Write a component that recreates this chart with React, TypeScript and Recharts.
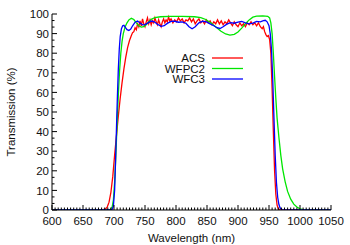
import React from "react";
import { Label, Legend, Line, LineChart, XAxis, YAxis } from "recharts";

// wavelength (nm) / transmission (%)
const acsWave = [600, 680, 686, 689, 692, 695, 698, 701, 704, 707, 710, 713, 716, 719, 722, 725, 728, 730, 732, 734, 736, 738, 740, 742, 744, 746, 748, 750, 752, 754, 756, 758, 760, 762, 764, 766, 768, 770, 772, 774, 776, 778, 780, 782, 784, 786, 788, 790, 792, 795, 798, 801, 804, 807, 810, 813, 816, 819, 822, 825, 828, 831, 834, 837, 840, 843, 846, 849, 852, 855, 858, 861, 864, 867, 870, 873, 876, 879, 882, 885, 888, 891, 894, 897, 900, 903, 906, 909, 912, 915, 918, 921, 924, 927, 930, 933, 936, 939, 941, 943, 945, 947, 949, 951, 953, 955, 957, 959, 961, 963, 965, 968, 1050];
const acsTrans = [0, 0, 0.4, 1.5, 4, 9, 17, 28, 38, 48, 57, 65, 72, 78, 83, 86.5, 89, 90.5, 91, 93, 92, 95, 93.5, 96.5, 94, 97.5, 95, 93.5, 96, 98, 95, 97, 94.5, 96.5, 95.5, 98, 96, 94.5, 97, 95, 93.5, 96, 97.5, 95.5, 97, 96, 98.5, 96.5, 97.5, 95.5, 97, 96, 98, 96.5, 97.5, 95.5, 97, 96.5, 98, 96, 97.5, 95, 96.5, 97.5, 95.5, 96.5, 95, 97, 95.5, 96.5, 94.5, 96, 95, 97, 95, 96.5, 94.5, 96, 95, 97, 95.5, 94, 96, 94.5, 93.5, 95.5, 94, 95, 93.5, 95.5, 94.5, 96, 94.5, 95.5, 94, 95.5, 93.5, 92.5, 93.5, 91, 89.5, 88.5, 89, 87, 80, 62, 40, 20, 8, 2.5, 0.6, 0, 0];

const wfpc2Wave = [600, 688, 694, 697, 699, 701, 703, 705, 707, 709, 711, 713, 715, 718, 721, 724, 728, 732, 736, 740, 744, 748, 752, 756, 760, 766, 775, 790, 810, 830, 840, 848, 856, 864, 872, 880, 887, 894, 900, 906, 912, 918, 924, 930, 940, 948, 951, 953, 955, 957, 959, 961, 963, 966, 969, 972, 976, 980, 985, 990, 995, 1000, 1005, 1010, 1050];
const wfpc2Trans = [0, 0, 0.3, 1.5, 5, 14, 28, 44, 59, 71, 80, 86, 90, 93.5, 95.5, 97, 97.8, 97.2, 95.5, 94, 93.3, 93.5, 94.5, 96, 97.3, 98.2, 98.6, 98.8, 98.8, 98.6, 98.2, 97.2, 95.5, 93.5, 91.3, 89.8, 89.2, 89.6, 90.8, 92.8, 95, 97, 98.4, 98.9, 99, 98.8, 98, 95.5, 90, 80, 68, 57, 47, 37, 28, 21, 14.5, 9.5, 5.5, 3, 1.5, 0.6, 0.2, 0, 0];

const wfc3Wave = [600, 692, 697, 699, 701, 702.5, 704, 705.5, 707, 708.5, 710, 712, 714, 716, 718, 721, 724, 727, 730, 734, 738, 742, 746, 750, 755, 760, 765, 770, 776, 781, 786, 792, 798, 804, 810, 816, 821, 826, 831, 837, 843, 849, 855, 861, 866, 871, 876, 882, 888, 894, 900, 906, 912, 918, 924, 930, 936, 941, 944, 947, 950, 952, 954, 956, 958, 960, 962, 964, 966, 968, 971, 974, 1050];
const wfc3Trans = [0, 0, 0.3, 2, 10, 25, 42, 58, 72, 82, 88.5, 92.5, 94, 94.2, 93.3, 92, 91.6, 92.3, 94, 95.8, 96.4, 95.4, 94.5, 94.6, 95.5, 96.4, 96, 94.8, 93.7, 94, 95.2, 96.2, 96.3, 95.8, 96, 95.3, 93.5, 92.5, 93.5, 95.5, 96.3, 96, 95, 94, 93, 92.6, 93.5, 94.8, 95.6, 95.3, 95.8, 96.2, 95.5, 95, 95.4, 96.2, 96, 96.6, 96.8, 96, 94, 90, 82, 67, 47, 28, 14, 6.5, 2.8, 1, 0.2, 0, 0];

const seriesNames = ["ACS", "WFPC2", "WFC3"];

const xTicks = Array.from({ length: 91 }, (_, i) => 600 + i * 5);
const yTicks = Array.from({ length: 31 }, (_, i) => (i * 10) / 3);

const toPoints = (xs: number[], ys: number[]) => xs.map((x, i) => ({ x, y: ys[i] }));

const acsData = toPoints(acsWave, acsTrans);
const wfpc2Data = toPoints(wfpc2Wave, wfpc2Trans);
const wfc3Data = toPoints(wfc3Wave, wfc3Trans);

const font = '"Liberation Sans", Arial, sans-serif';
const fontSize = 11.5;
const ink = "#111";

const isMajor = (v: number, step: number) => Math.abs(v / step - Math.round(v / step)) < 1e-6;

const BottomTick = ({ x, y, payload }: any) => {
  const major = isMajor(payload.value, 50);
  return (
    <g>
      <line x1={x} x2={x} y1={y} y2={y - (major ? 5 : 2.5)} stroke="#000" />
      {major && (
        <text x={x} y={y + 15} textAnchor="middle" fontFamily={font} fontSize={fontSize} fill={ink}>
          {payload.value}
        </text>
      )}
    </g>
  );
};

const TopTick = ({ x, y, payload }: any) => {
  const major = isMajor(payload.value, 50);
  return <line x1={x} x2={x} y1={y} y2={y + (major ? 5 : 2.5)} stroke="#000" />;
};

const LeftTick = ({ x, y, payload }: any) => {
  const major = isMajor(payload.value, 10);
  return (
    <g>
      <line x1={x} x2={x + (major ? 5 : 2.5)} y1={y} y2={y} stroke="#000" />
      {major && (
        <text x={x - 3} y={y} dy="0.36em" textAnchor="end" fontFamily={font} fontSize={fontSize} fill={ink}>
          {Math.round(payload.value)}
        </text>
      )}
    </g>
  );
};

const RightTick = ({ x, y, payload }: any) => {
  const major = isMajor(payload.value, 10);
  return <line x1={x} x2={x - (major ? 5 : 2.5)} y1={y} y2={y} stroke="#000" />;
};

const renderLegend = (props: any) => {
  const items = [...(props.payload || [])].sort(
    (a: any, b: any) => seriesNames.indexOf(a.value) - seriesNames.indexOf(b.value)
  );
  return (
    <svg width={110} height={36}>
      {items.map((p: any, i: number) => (
        <g key={p.value}>
          <text x={57} y={6 + i * 10.5} dy="0.36em" textAnchor="end" fontFamily={font} fontSize={fontSize} fill={ink}>
            {p.value}
          </text>
          <line x1={64} x2={95} y1={6 + i * 10.5} y2={6 + i * 10.5} stroke={p.color} strokeWidth={1.3} />
        </g>
      ))}
    </svg>
  );
};

export default function App() {
  return (
    <div style={{ position: "absolute", left: 0, top: 0, width: 350, height: 245, background: "#fff" }}>
      <LineChart width={350} height={245} margin={{ top: 14, right: 19, bottom: 0, left: 0 }}>
        <XAxis
          xAxisId="b"
          type="number"
          dataKey="x"
          domain={[600, 1050]}
          allowDataOverflow
          ticks={xTicks}
          interval={0}
          tick={<BottomTick />}
          tickLine={false}
          tickSize={0}
          tickMargin={0}
          height={35}
          stroke="#000"
        >
          <Label
            value="Wavelength (nm)"
            position="insideBottom"
            offset={3}
            style={{ fontFamily: font, fontSize, fill: ink }}
          />
        </XAxis>
        <XAxis
          xAxisId="t"
          orientation="top"
          type="number"
          dataKey="x"
          domain={[600, 1050]}
          allowDataOverflow
          ticks={xTicks}
          interval={0}
          tick={<TopTick />}
          tickLine={false}
          tickSize={0}
          tickMargin={0}
          height={0}
          stroke="#000"
        />
        <YAxis
          yAxisId="l"
          type="number"
          domain={[0, 100]}
          allowDataOverflow
          ticks={yTicks}
          interval={0}
          tick={<LeftTick />}
          tickLine={false}
          tickSize={0}
          tickMargin={0}
          width={52}
          stroke="#000"
        >
          <Label
            value="Transmission (%)"
            angle={-90}
            position="insideLeft"
            offset={11}
            style={{ textAnchor: "middle", fontFamily: font, fontSize, fill: ink }}
          />
        </YAxis>
        <YAxis
          yAxisId="r"
          orientation="right"
          type="number"
          domain={[0, 100]}
          allowDataOverflow
          ticks={yTicks}
          interval={0}
          tick={<RightTick />}
          tickLine={false}
          tickSize={0}
          tickMargin={0}
          width={0}
          stroke="#000"
        />
        <Legend
          content={renderLegend}
          layout="vertical"
          align="center"
          verticalAlign="middle"
          wrapperStyle={{ left: 148, top: 52, width: 110, height: 36 }}
        />
        <Line xAxisId="b" yAxisId="l" data={acsData} dataKey="y" name="ACS" type="linear" stroke="#ff0000" strokeWidth={1.3} dot={false} isAnimationActive={false} />
        <Line xAxisId="b" yAxisId="l" data={wfpc2Data} dataKey="y" name="WFPC2" type="linear" stroke="#00e600" strokeWidth={1.3} dot={false} isAnimationActive={false} />
        <Line xAxisId="b" yAxisId="l" data={wfc3Data} dataKey="y" name="WFC3" type="linear" stroke="#0000ff" strokeWidth={1.3} dot={false} isAnimationActive={false} />
      </LineChart>
    </div>
  );
}
